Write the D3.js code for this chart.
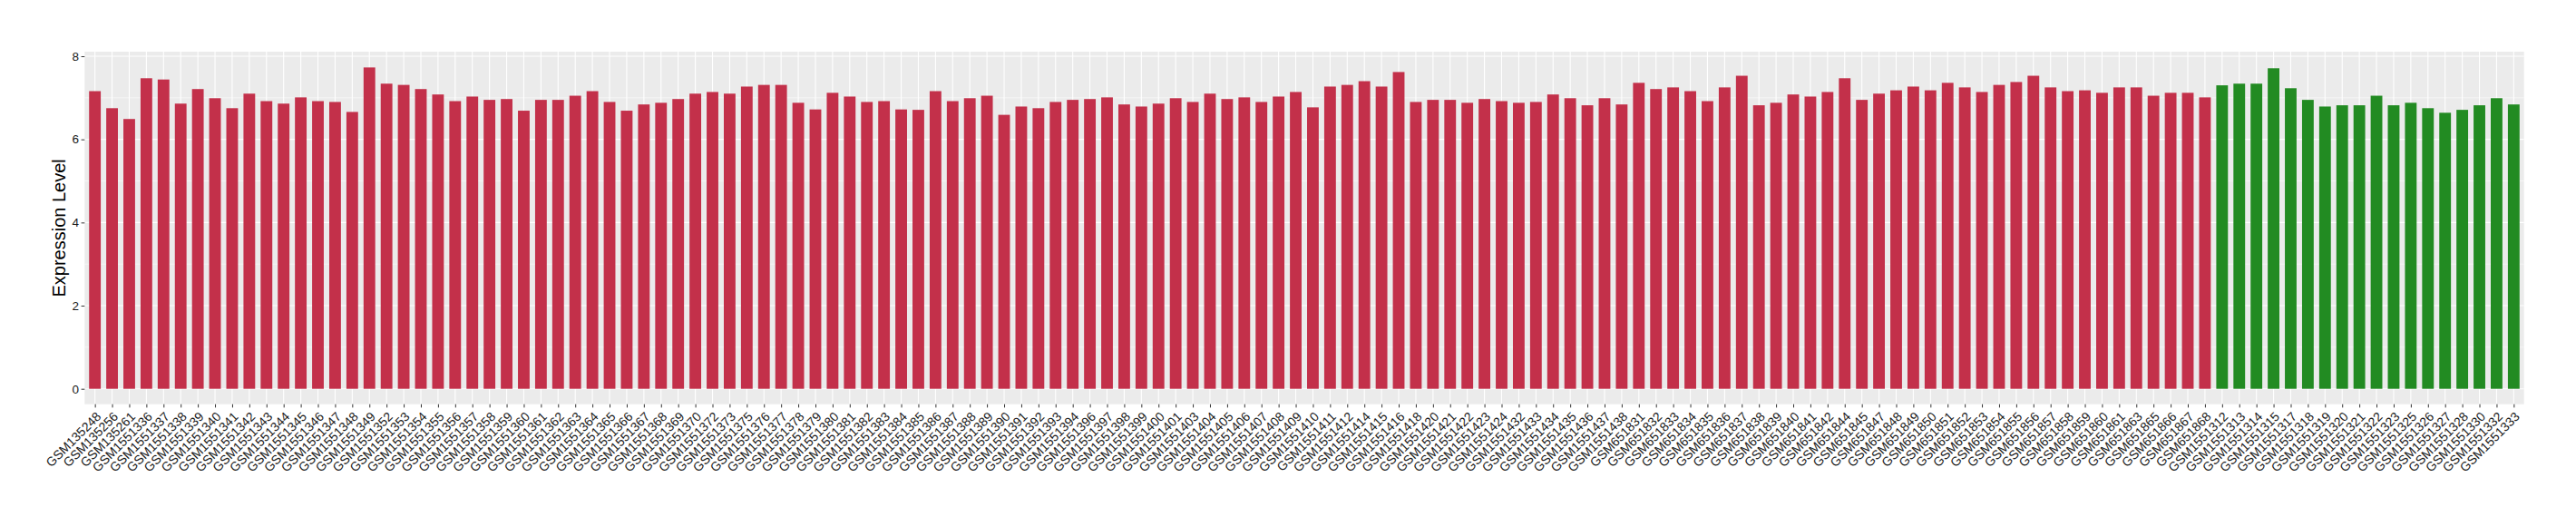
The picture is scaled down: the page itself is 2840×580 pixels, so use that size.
<!DOCTYPE html>
<html lang="en">
<head>
<meta charset="UTF-8">
<title>Expression Level</title>
<script src="https://cdn.jsdelivr.net/npm/d3@7"></script>
<style>
  body { margin: 0; background: #fff; }
  svg text { font-family: "Liberation Sans", Arial, Helvetica, sans-serif; }
</style>
</head>
<body>
<div id="chart"></div>
<script>
// sample ids, first group (red)
const redSamples = [
  "GSM135248","GSM135256","GSM135261","GSM1551336","GSM1551337","GSM1551338","GSM1551339","GSM1551340",
  "GSM1551341","GSM1551342","GSM1551343","GSM1551344","GSM1551345","GSM1551346","GSM1551347","GSM1551348",
  "GSM1551349","GSM1551352","GSM1551353","GSM1551354","GSM1551355","GSM1551356","GSM1551357","GSM1551358",
  "GSM1551359","GSM1551360","GSM1551361","GSM1551362","GSM1551363","GSM1551364","GSM1551365","GSM1551366",
  "GSM1551367","GSM1551368","GSM1551369","GSM1551370","GSM1551372","GSM1551373","GSM1551375","GSM1551376",
  "GSM1551377","GSM1551378","GSM1551379","GSM1551380","GSM1551381","GSM1551382","GSM1551383","GSM1551384",
  "GSM1551385","GSM1551386","GSM1551387","GSM1551388","GSM1551389","GSM1551390","GSM1551391","GSM1551392",
  "GSM1551393","GSM1551394","GSM1551396","GSM1551397","GSM1551398","GSM1551399","GSM1551400","GSM1551401",
  "GSM1551403","GSM1551404","GSM1551405","GSM1551406","GSM1551407","GSM1551408","GSM1551409","GSM1551410",
  "GSM1551411","GSM1551412","GSM1551414","GSM1551415","GSM1551416","GSM1551418","GSM1551420","GSM1551421",
  "GSM1551422","GSM1551423","GSM1551424","GSM1551432","GSM1551433","GSM1551434","GSM1551435","GSM1551436",
  "GSM1551437","GSM1551438","GSM651831","GSM651832","GSM651833","GSM651834","GSM651835","GSM651836",
  "GSM651837","GSM651838","GSM651839","GSM651840","GSM651841","GSM651842","GSM651844","GSM651845",
  "GSM651847","GSM651848","GSM651849","GSM651850","GSM651851","GSM651852","GSM651853","GSM651854",
  "GSM651855","GSM651856","GSM651857","GSM651858","GSM651859","GSM651860","GSM651861","GSM651863",
  "GSM651865","GSM651866","GSM651867","GSM651868"
];
const redValues = [
  7.16,6.75,6.49,7.47,7.44,6.86,7.21,6.99, 6.75,7.10,6.92,6.86,7.01,6.92,6.90,6.66,
  7.73,7.34,7.31,7.21,7.08,6.92,7.03,6.95, 6.97,6.69,6.95,6.95,7.05,7.16,6.90,6.69,
  6.84,6.88,6.97,7.10,7.14,7.10,7.27,7.31, 7.31,6.88,6.72,7.12,7.03,6.90,6.92,6.72,
  6.71,7.16,6.92,6.99,7.05,6.59,6.79,6.75, 6.90,6.95,6.97,7.01,6.84,6.79,6.86,6.99,
  6.90,7.10,6.97,7.01,6.90,7.03,7.14,6.77, 7.27,7.31,7.40,7.27,7.62,6.90,6.95,6.95,
  6.88,6.97,6.92,6.88,6.90,7.08,6.99,6.82, 6.99,6.84,7.36,7.21,7.25,7.16,6.92,7.25,
  7.53,6.82,6.88,7.08,7.03,7.14,7.47,6.95, 7.10,7.18,7.27,7.18,7.36,7.25,7.14,7.31,
  7.38,7.53,7.25,7.16,7.18,7.12,7.25,7.25, 7.05,7.12,7.12,7.01
];

// second group (green)
const greenSamples = [
  "GSM1551312","GSM1551313","GSM1551314","GSM1551315","GSM1551317","GSM1551318","GSM1551319","GSM1551320",
  "GSM1551321","GSM1551322","GSM1551323","GSM1551325","GSM1551326","GSM1551327","GSM1551328","GSM1551330",
  "GSM1551332","GSM1551333"
];
const greenValues = [
  7.30,7.34,7.34,7.71,7.23,6.95,6.79,6.82, 6.82,7.05,6.82,6.88,6.75,6.64,6.71,6.82,
  6.99,6.84
];

const yTicks = [0, 2, 4, 6, 8];
const yMinor = [1, 3, 5, 7];
const yTitle = "Expression Level";

const colRed = "#C3304A", colGreen = "#228B22";

// build rows
const data = redSamples.map((s, i) => ({name: s, value: redValues[i], fill: colRed}))
  .concat(greenSamples.map((s, i) => ({name: s, value: greenValues[i], fill: colGreen})));

// panel placement
const W = 2840, H = 580;
const panel = {left: 93.3, right: 2782.7, top: 57, bottom: 445.7};

const svg = d3.select("#chart").append("svg")
  .attr("width", W).attr("height", H);

// x: discrete with ggplot-style 0.6 step padding on the outside
const n = data.length;
const step = (panel.right - panel.left) / (n - 1 + 1.2);
const x = d3.scalePoint()
  .domain(data.map(d => d.name))
  .range([panel.left + 0.6 * step, panel.right - 0.6 * step]);
const barW = step * 0.68;

const y = d3.scaleLinear()
  .domain([-0.371, 8.109])
  .range([panel.bottom, panel.top]);

// panel background
svg.append("rect")
  .attr("x", panel.left).attr("y", panel.top)
  .attr("width", panel.right - panel.left)
  .attr("height", panel.bottom - panel.top)
  .attr("fill", "#EBEBEB");

// minor grid
svg.append("g").selectAll("line")
  .data(yMinor).join("line")
    .attr("x1", panel.left).attr("x2", panel.right)
    .attr("y1", d => y(d)).attr("y2", d => y(d))
    .attr("stroke", "#fff").attr("stroke-width", 0.55);

// major grid
svg.append("g").selectAll("line")
  .data(yTicks).join("line")
    .attr("x1", panel.left).attr("x2", panel.right)
    .attr("y1", d => y(d)).attr("y2", d => y(d))
    .attr("stroke", "#fff").attr("stroke-width", 1.1);

svg.append("g").selectAll("line")
  .data(data).join("line")
    .attr("x1", d => x(d.name)).attr("x2", d => x(d.name))
    .attr("y1", panel.top).attr("y2", panel.bottom)
    .attr("stroke", "#fff").attr("stroke-width", 1.1);

// bars
svg.append("g").selectAll("rect")
  .data(data).join("rect")
    .attr("x", d => x(d.name) - barW / 2)
    .attr("y", d => y(d.value))
    .attr("width", barW)
    .attr("height", d => y(0) - y(d.value))
    .attr("fill", d => d.fill);

// y axis
const yAxis = svg.append("g")
  .attr("transform", `translate(${panel.left},0)`)
  .call(d3.axisLeft(y).tickValues(yTicks).tickSize(3.7).tickPadding(2.5));
yAxis.select(".domain").remove();
yAxis.selectAll("line").attr("stroke", "#333").attr("stroke-width", 1);
yAxis.selectAll("text")
  .attr("fill", "#1a1a1a")
  .style("font-size", "13.5px");

// x axis
const xAxis = svg.append("g")
  .attr("transform", `translate(0,${panel.bottom})`)
  .call(d3.axisBottom(x).tickSize(3.7).tickSizeOuter(0));
xAxis.select(".domain").remove();
xAxis.selectAll("line").attr("stroke", "#333").attr("stroke-width", 1);
xAxis.selectAll("text")
  .attr("fill", "#1a1a1a")
  .style("font-size", "14px")
  .attr("text-anchor", "end")
  .attr("y", 0).attr("dy", 0)
  .attr("transform", "translate(7,14.5) rotate(-45)");

// y title
svg.append("text")
  .attr("transform", `translate(72,${(panel.top + panel.bottom) / 2}) rotate(-90)`)
  .attr("text-anchor", "middle")
  .style("font-size", "20px")
  .attr("fill", "#000")
  .text(yTitle);
</script>
</body>
</html>
